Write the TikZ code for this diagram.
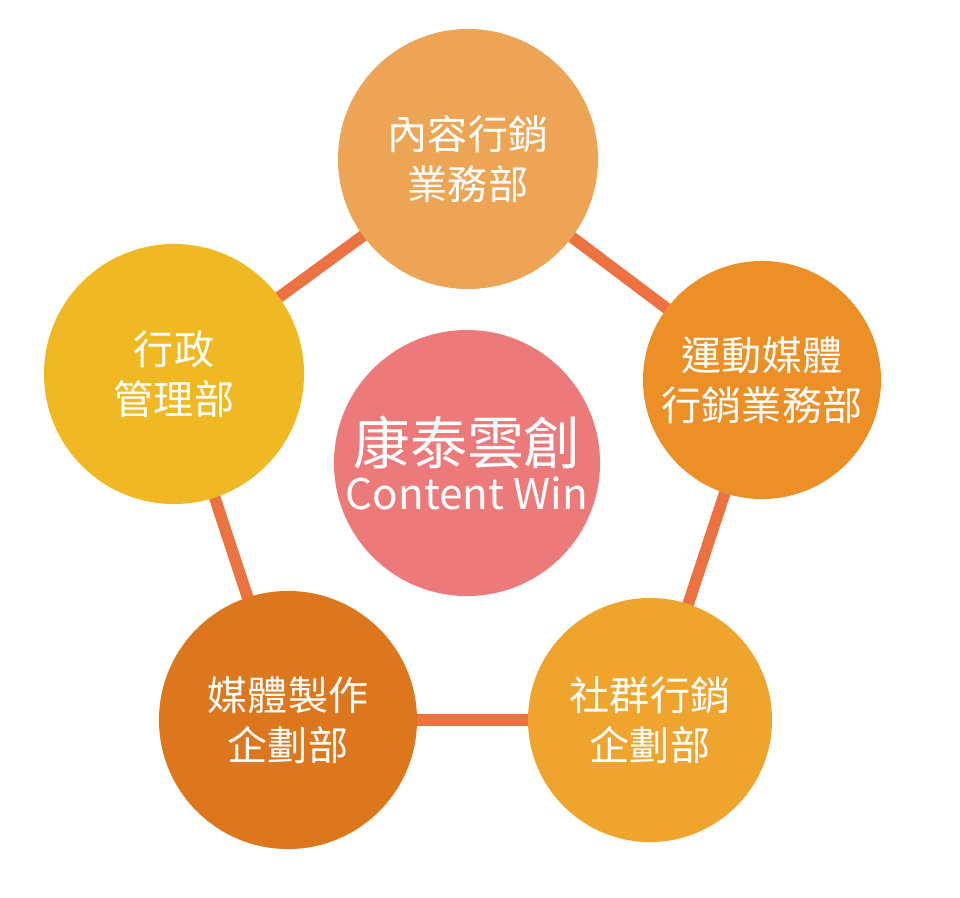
\documentclass[tikz,border=0pt]{standalone}
\usepackage{fontspec}
\usetikzlibrary{backgrounds}
\newfontfamily\cjk{Noto Sans CJK TC}
\definecolor{linkorange}{HTML}{EC7341}
\definecolor{deptA}{HTML}{EDA555}
\definecolor{deptB}{HTML}{EB8F26}
\definecolor{deptC}{HTML}{EFA52D}
\definecolor{deptD}{HTML}{DD771E}
\definecolor{deptE}{HTML}{F0B923}
\definecolor{hubpink}{HTML}{ED7A7A}
\begin{document}
\begin{tikzpicture}[x=0.025cm,y=-0.025cm,
    dept/.style={circle,inner sep=0pt,text=white,align=center,
        font=\cjk\fontsize{28.5}{35.6}\selectfont},
    link/.style={linkorange,line width=8.3pt}]
        \useasboundingbox (0,0) rectangle (960,897);
        % Departments
        \node[dept,fill=deptA,minimum size=6.5cm] (content) at (468,159) {內容行銷\\業務部};
        \node[dept,fill=deptB,minimum size=5.95cm] (sport) at (762,380) {運動媒體\\行銷業務部};
        \node[dept,fill=deptC,minimum size=6.1cm] (social) at (650,720) {社群行銷\\企劃部};
        \node[dept,fill=deptD,minimum size=6.45cm] (media) at (288,720) {媒體製作\\企劃部};
        \node[dept,fill=deptE,minimum size=6.5cm] (admin) at (174,374) {行政\\管理部};
        % Company in the middle
        \node[dept,fill=hubpink,minimum size=6.65cm] (hub) at (467,463)
            {{\fontsize{40.5}{44}\selectfont 康泰雲創}\\[-4pt]{\fontsize{30}{32}\selectfont Content Win}};
        % Links behind the circles
        \begin{scope}[on background layer]
        \draw[link] (content.center) -- (sport.center) -- (social.center) -- (media.center) -- (admin.center) -- cycle;
        \end{scope}
\end{tikzpicture}
\end{document}
